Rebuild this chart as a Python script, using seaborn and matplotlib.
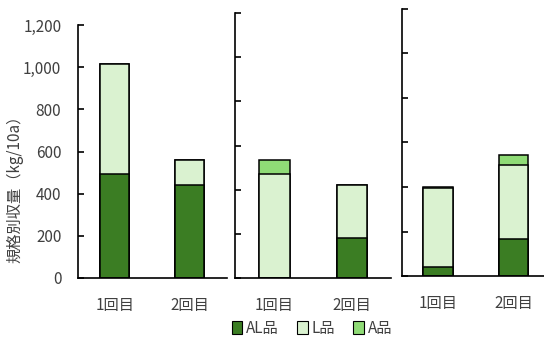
import matplotlib
matplotlib.use("Agg")
import matplotlib.pyplot as plt
import seaborn as sns
from matplotlib.patches import Patch

# data (kg/10a)
rounds = ["1回目", "2回目"]
al_left = [495, 440]
l_left = [520, 120]
a_left = [0, 0]

al_mid = [0, 180]
l_mid = [470, 242]
a_mid = [65, 0]

al_right = [42, 167]
l_right = [353, 334]
a_right = [7, 41]

C_AL = "#3b7d23"
C_L = "#daf2d0"
C_A = "#8fdb76"
TXT = "#404040"

sns.set_style("white")
plt.rcParams["font.family"] = ["Noto Sans CJK JP", "DejaVu Sans"]

W, H = 544, 338
fig = plt.figure(figsize=(W / 100, H / 100), dpi=100)


def px_axes(x0, x1, y_bottom, y_top):
    return fig.add_axes([x0 / W, 1 - y_bottom / H, (x1 - x0) / W, (y_bottom - y_top) / H])


panels = [
    (px_axes(78, 227, 278, 25), al_left, l_left, a_left, (-0.49, 1.5), True),
    (px_axes(235, 391, 278, 13), al_mid, l_mid, a_mid, (-0.51, 1.5), False),
    (px_axes(402, 545, 276, 9), al_right, l_right, a_right, (-0.48, 1.42), False),
]

for ax, al, l, a, xl, show_labels in panels:
    total = [x + y + z for x, y, z in zip(al, l, a)]
    al_l = [x + y for x, y in zip(al, l)]
    # stacked bars: draw tallest first, then overlay
    for vals, col in [(total, C_A), (al_l, C_L), (al, C_AL)]:
        sns.barplot(x=rounds, y=vals, color=col, edgecolor="black",
                    linewidth=1.1, width=0.39, saturation=1, ax=ax)
    ax.set_ylim(0, 1200)
    ax.set_xlim(*xl)
    ax.set_yticks(range(0, 1201, 200))
    for s in ["top", "right"]:
        ax.spines[s].set_visible(False)
    for s in ["left", "bottom"]:
        ax.spines[s].set_color("black")
        ax.spines[s].set_linewidth(1.2)
    ax.tick_params(axis="y", left=True, direction="in", length=4, width=1.2,
                   colors="black", labelcolor=TXT, labelsize=11, pad=12)
    ax.tick_params(axis="x", bottom=False, length=0, pad=14, labelcolor=TXT, labelsize=11)
    if show_labels:
        ax.set_yticklabels([f"{v:,}" for v in range(0, 1201, 200)])
    else:
        ax.set_yticklabels([])
    ax.set_xlabel("")
    ax.set_ylabel("")

fig.text(15 / W, 1 - 185 / H, "規格別収量（kg/10a）", rotation=90, ha="center",
         va="center", fontsize=11, color=TXT)

handles = [Patch(facecolor=c, edgecolor="black", linewidth=0.8, label=lab)
           for c, lab in [(C_AL, "AL品"), (C_L, "L品"), (C_A, "A品")]]
fig.legend(handles=handles, loc="center", bbox_to_anchor=(312 / W, 1 - 328 / H),
           ncol=3, frameon=False, fontsize=11, handlelength=0.7, handleheight=0.9,
           handletextpad=0.25, columnspacing=1.2, labelcolor=TXT)

fig.savefig("out.png", dpi=100)
